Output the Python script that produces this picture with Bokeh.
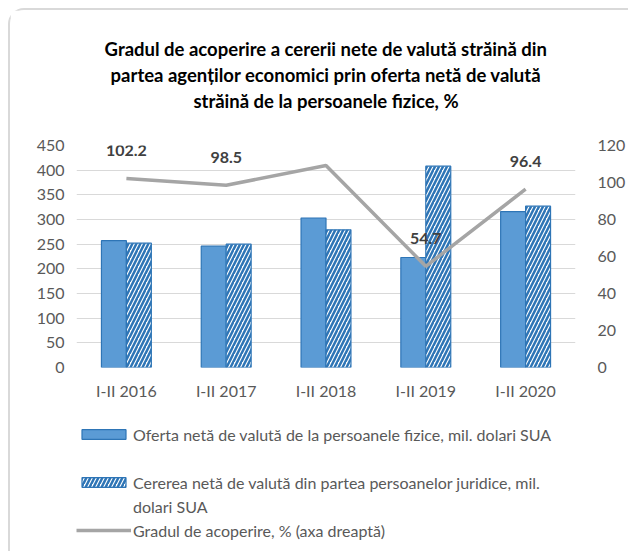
from bokeh.plotting import figure
from bokeh.layouts import column
from bokeh.models import (Range1d, LinearAxis, FactorRange, Legend, LegendItem, Title,
                          ColumnDataSource, FixedTicker)
from bokeh.transform import dodge
from bokeh.core.properties import value
from bokeh.embed import file_html
from bokeh.resources import INLINE

categories = ["I-II 2016", "I-II 2017", "I-II 2018", "I-II 2019", "I-II 2020"]
oferta = [257, 246, 303, 223, 316]
cererea = [252, 250, 279, 408, 327]
gradul = [102.2, 98.5, 109.2, 54.7, 96.4]
labels = ["102.2", "98.5", "109.2", "54.7", "96.4"]
left_ticks = [0, 50, 100, 150, 200, 250, 300, 350, 400, 450]
right_ticks = [0, 20, 40, 60, 80, 100, 120]

title_lines = ["Gradul de acoperire a cererii nete de valută străină din",
               "partea agenților economici prin oferta netă de valută",
               "străină de la persoanele fizice, %"]
legend_labels = ["Oferta netă de valută de la persoanele fizice, mil. dolari SUA",
                 "Cererea netă de valută din partea persoanelor juridice, mil.",
                 "dolari SUA",
                 "Gradul de acoperire, % (axa dreaptă)"]

FONT = "Lato"
BAR1 = dict(fill_color="#5b9bd5", line_color="#2e75b6", line_width=1.2)
BAR2 = dict(fill_color="white", line_color="#2e75b6", line_width=1.2,
            hatch_pattern="/", hatch_color="#2e75b6", hatch_weight=2.5, hatch_scale=8)
LINE = dict(line_color="#a5a5a5", line_width=3.5)

src = ColumnDataSource(dict(cat=categories, oferta=oferta, cererea=cererea,
                            gradul=gradul, lbl=labels))

p = figure(width=618, height=400, x_range=FactorRange(*categories, range_padding=0),
           y_range=Range1d(0, 450), output_backend="svg", toolbar_location=None,
           min_border_left=66, min_border_right=47, min_border_top=135,
           min_border_bottom=43)
p.title.text = ""
p.title.visible = False
p.outline_line_color = None
p.xgrid.grid_line_color = None
p.ygrid.grid_line_color = "#d9d9d9"
p.ygrid.grid_line_width = 1
p.extra_y_ranges = {"right": Range1d(0, 120)}

ax_r = LinearAxis(y_range_name="right", ticker=FixedTicker(ticks=right_ticks))
p.add_layout(ax_r, "right")
p.yaxis[0].ticker = FixedTicker(ticks=left_ticks)
for ax in [p.yaxis[0], ax_r, p.xaxis[0]]:
    ax.axis_line_color = None
    ax.major_tick_line_color = None
    ax.minor_tick_line_color = None
    ax.major_label_text_font = FONT
    ax.major_label_text_font_size = "16px"
    ax.major_label_text_color = "#595959"
p.yaxis[0].major_label_standoff = 6
ax_r.major_label_standoff = 16
p.xaxis[0].major_label_standoff = 7

p.vbar(x=dodge("cat", -0.125, range=p.x_range), top="oferta", width=0.25, source=src, **BAR1)
p.vbar(x=dodge("cat", 0.125, range=p.x_range), top="cererea", width=0.25, source=src, **BAR2)
p.line(x="cat", y="gradul", source=src, y_range_name="right", **LINE)
p.text(x="cat", y="gradul", text="lbl", source=src, y_range_name="right",
       text_align="center", text_baseline="middle", y_offset=-28,
       text_font=value(FONT), text_font_style="bold", text_font_size="16px",
       text_color="#404040")

spacer = Title(text="\u00a0", text_font=FONT, text_font_size="18.5px", standoff=9)
p.add_layout(spacer, "above")
for line in reversed(title_lines):
    t = Title(text=line, align="center", text_font=FONT, text_font_style="bold",
              text_font_size="18.5px", text_color="#000000", standoff=2)
    p.add_layout(t, "above")

# legend panel: same series drawn off-range there, only their legend is visible
p2 = figure(width=618, height=141, x_range=FactorRange(*categories),
            y_range=Range1d(1000, 1001),
            x_axis_location=None, y_axis_location=None, output_backend="svg",
            toolbar_location=None, min_border_left=36, min_border_right=0,
            min_border_top=12, min_border_bottom=0)
p2.title.visible = False
p2.grid.visible = False
p2.outline_line_color = None
l1 = p2.vbar(x="cat", top="oferta", width=0.25, source=src, **BAR1)
l2 = p2.vbar(x="cat", top="cererea", width=0.25, source=src, **BAR2)
l3 = p2.line(x="cat", y="gradul", source=src, **LINE)
blank = p2.scatter(x="cat", y="gradul", source=src, size=0, fill_alpha=0, line_alpha=0)
items = [LegendItem(label=legend_labels[0], renderers=[l1]),
         LegendItem(label="\u00a0", renderers=[blank]),
         LegendItem(label=legend_labels[1], renderers=[l2]),
         LegendItem(label=legend_labels[2], renderers=[blank]),
         LegendItem(label=legend_labels[3], renderers=[l3])]
leg = Legend(items=items, location="top_left", orientation="vertical",
             glyph_width=55, glyph_height=12, label_standoff=2, spacing=0,
             label_height=24, padding=0, margin=0, border_line_color=None,
             background_fill_alpha=0, label_text_font=FONT,
             label_text_font_size="16px", label_text_color="#595959")
p2.add_layout(leg)

layout = column(p, p2, spacing=0,
                styles={"border-top": "2px solid #d9d9d9", "border-left": "2px solid #d9d9d9",
                        "border-top-left-radius": "16px", "margin-left": "8px",
                        "margin-top": "8px"})

open("out.html", "w").write(file_html(layout, INLINE))
